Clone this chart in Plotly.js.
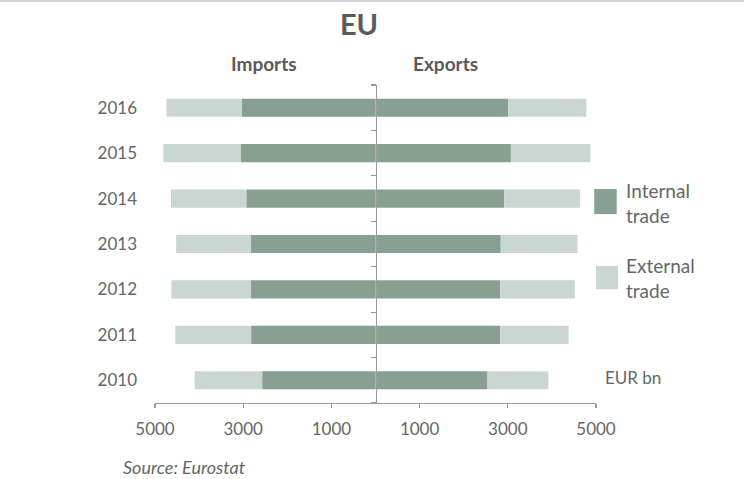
<!DOCTYPE html>
<html>
<head>
<meta charset="utf-8">
<script src="https://cdn.plot.ly/plotly-3.0.1.min.js"></script>
<style>
  html, body { margin: 0; padding: 0; background: #fff; }
  #wrap { position: relative; width: 744px; height: 479px; }
  #topline { position: absolute; left: 0; top: 0; width: 744px; height: 2px; background: #d4d4d4; z-index: 2; }
  #chart { width: 744px; height: 479px; }
</style>
</head>
<body>
<div id="wrap">
  <div id="topline"></div>
  <div id="chart"></div>
</div>
<script>
// EU trade in goods, EUR bn
const years = ['2010', '2011', '2012', '2013', '2014', '2015', '2016'];

const importsInternal = [2570, 2820, 2830, 2830, 2930, 3060, 3030];
const importsExternal = [1530, 1720, 1800, 1690, 1710, 1750, 1710];
const exportsInternal = [2540, 2830, 2830, 2840, 2920, 3070, 3010];
const exportsExternal = [1380, 1550, 1690, 1740, 1720, 1800, 1770];

const xTickValues = [-5000, -3000, -1000, 1000, 3000, 5000];
const xTickLabels = ['5000', '3000', '1000', '1000', '3000', '5000'];

const internalColor = '#88a091';
const externalColor = '#c9d6d1';
const textColor = '#666666';
const axisColor = '#9a9a9a';
const font = 'Lato, "Open Sans", sans-serif';

// imports run to the left, so they are plotted as negative values
const neg = arr => arr.map(v => -v);

const barBase = { type: 'bar', orientation: 'h', y: years, width: 0.4,
  hoverinfo: 'skip', showlegend: false, marker: { line: { width: 0 } } };

const traces = [
  Object.assign({}, barBase, { name: 'Imports internal', x: neg(importsInternal), marker: { color: internalColor } }),
  Object.assign({}, barBase, { name: 'Imports external', x: neg(importsExternal), marker: { color: externalColor } }),
  Object.assign({}, barBase, { name: 'Exports internal', x: exportsInternal, marker: { color: internalColor } }),
  Object.assign({}, barBase, { name: 'Exports external', x: exportsExternal, marker: { color: externalColor } }),
  // carries the central divider axis
  { type: 'scatter', x: [], y: [], yaxis: 'y2', hoverinfo: 'skip', showlegend: false }
];

// boundaries between the year rows, used as ticks on the divider
const rowEdges = years.map((_, i) => i - 0.5).concat([years.length - 0.5]);

const layout = {
  width: 744,
  height: 479,
  margin: { l: 155, r: 148, t: 85, b: 76 },
  paper_bgcolor: '#ffffff',
  plot_bgcolor: '#ffffff',
  barmode: 'relative',
  font: { family: font, color: textColor, size: 16 },
  title: {
    text: 'EU',
    x: 359 / 744, xref: 'container', xanchor: 'center',
    y: 1 - 25 / 479, yref: 'container', yanchor: 'middle',
    font: { family: font, size: 29, color: '#5a5a5a', weight: 700 }
  },
  xaxis: {
    range: [-5000, 5000],
    tickmode: 'array', tickvals: xTickValues, ticktext: xTickLabels,
    ticks: 'outside', ticklen: 4, tickcolor: axisColor, tickwidth: 1.2,
    showline: true, linecolor: axisColor, linewidth: 1.2,
    showgrid: false, zeroline: false,
    ticklabelstandoff: 6,
    tickfont: { family: font, size: 17, color: textColor }
  },
  yaxis: {
    type: 'category',
    range: [-0.5, years.length - 0.5],
    showline: false, showgrid: false, zeroline: false, ticks: '',
    ticklabelstandoff: 17,
    tickfont: { family: font, size: 17, color: textColor }
  },
  yaxis2: {
    overlaying: 'y', anchor: 'free', position: 0.5, side: 'left',
    range: [-0.5, years.length - 0.5],
    tickmode: 'array', tickvals: rowEdges,
    ticks: 'outside', ticklen: 5, tickcolor: axisColor, tickwidth: 1.2,
    showticklabels: false,
    showline: true, linecolor: axisColor, linewidth: 1.5,
    showgrid: false, zeroline: false
  },
  shapes: [
    { type: 'rect', xref: 'paper', yref: 'paper', x0: 0.996, x1: 1.047, y0: 0.594, y1: 0.673,
      fillcolor: internalColor, line: { width: 0 } },
    { type: 'rect', xref: 'paper', yref: 'paper', x0: 1.0, x1: 1.05, y0: 0.358, y1: 0.431,
      fillcolor: externalColor, line: { width: 0 } }
  ],
  annotations: [
    { text: 'Imports', xref: 'paper', yref: 'paper', x: 0.247, y: 1.069,
      xanchor: 'center', yanchor: 'middle', showarrow: false,
      font: { family: font, size: 19, color: '#5a5a5a', weight: 700 } },
    { text: 'Exports', xref: 'paper', yref: 'paper', x: 0.658, y: 1.069,
      xanchor: 'center', yanchor: 'middle', showarrow: false,
      font: { family: font, size: 19, color: '#5a5a5a', weight: 700 } },
    { text: 'Internal<br>trade', xref: 'paper', yref: 'paper', x: 1.063, y: 0.629,
      xanchor: 'left', yanchor: 'middle', align: 'left', showarrow: false,
      font: { family: font, size: 19, color: textColor } },
    { text: 'External<br>trade', xref: 'paper', yref: 'paper', x: 1.063, y: 0.393,
      xanchor: 'left', yanchor: 'middle', align: 'left', showarrow: false,
      font: { family: font, size: 19, color: textColor } },
    { text: 'EUR bn', xref: 'paper', yref: 'paper', x: 1.016, y: 0.079,
      xanchor: 'left', yanchor: 'middle', showarrow: false,
      font: { family: font, size: 17, color: textColor } },
    { text: '<i>Source: Eurostat</i>', xref: 'paper', yref: 'paper', x: -0.077, y: -0.201,
      xanchor: 'left', yanchor: 'middle', showarrow: false,
      font: { family: font, size: 18, color: textColor } }
  ]
};

Plotly.newPlot('chart', traces, layout, { staticPlot: true, displayModeBar: false });
</script>
</body>
</html>
